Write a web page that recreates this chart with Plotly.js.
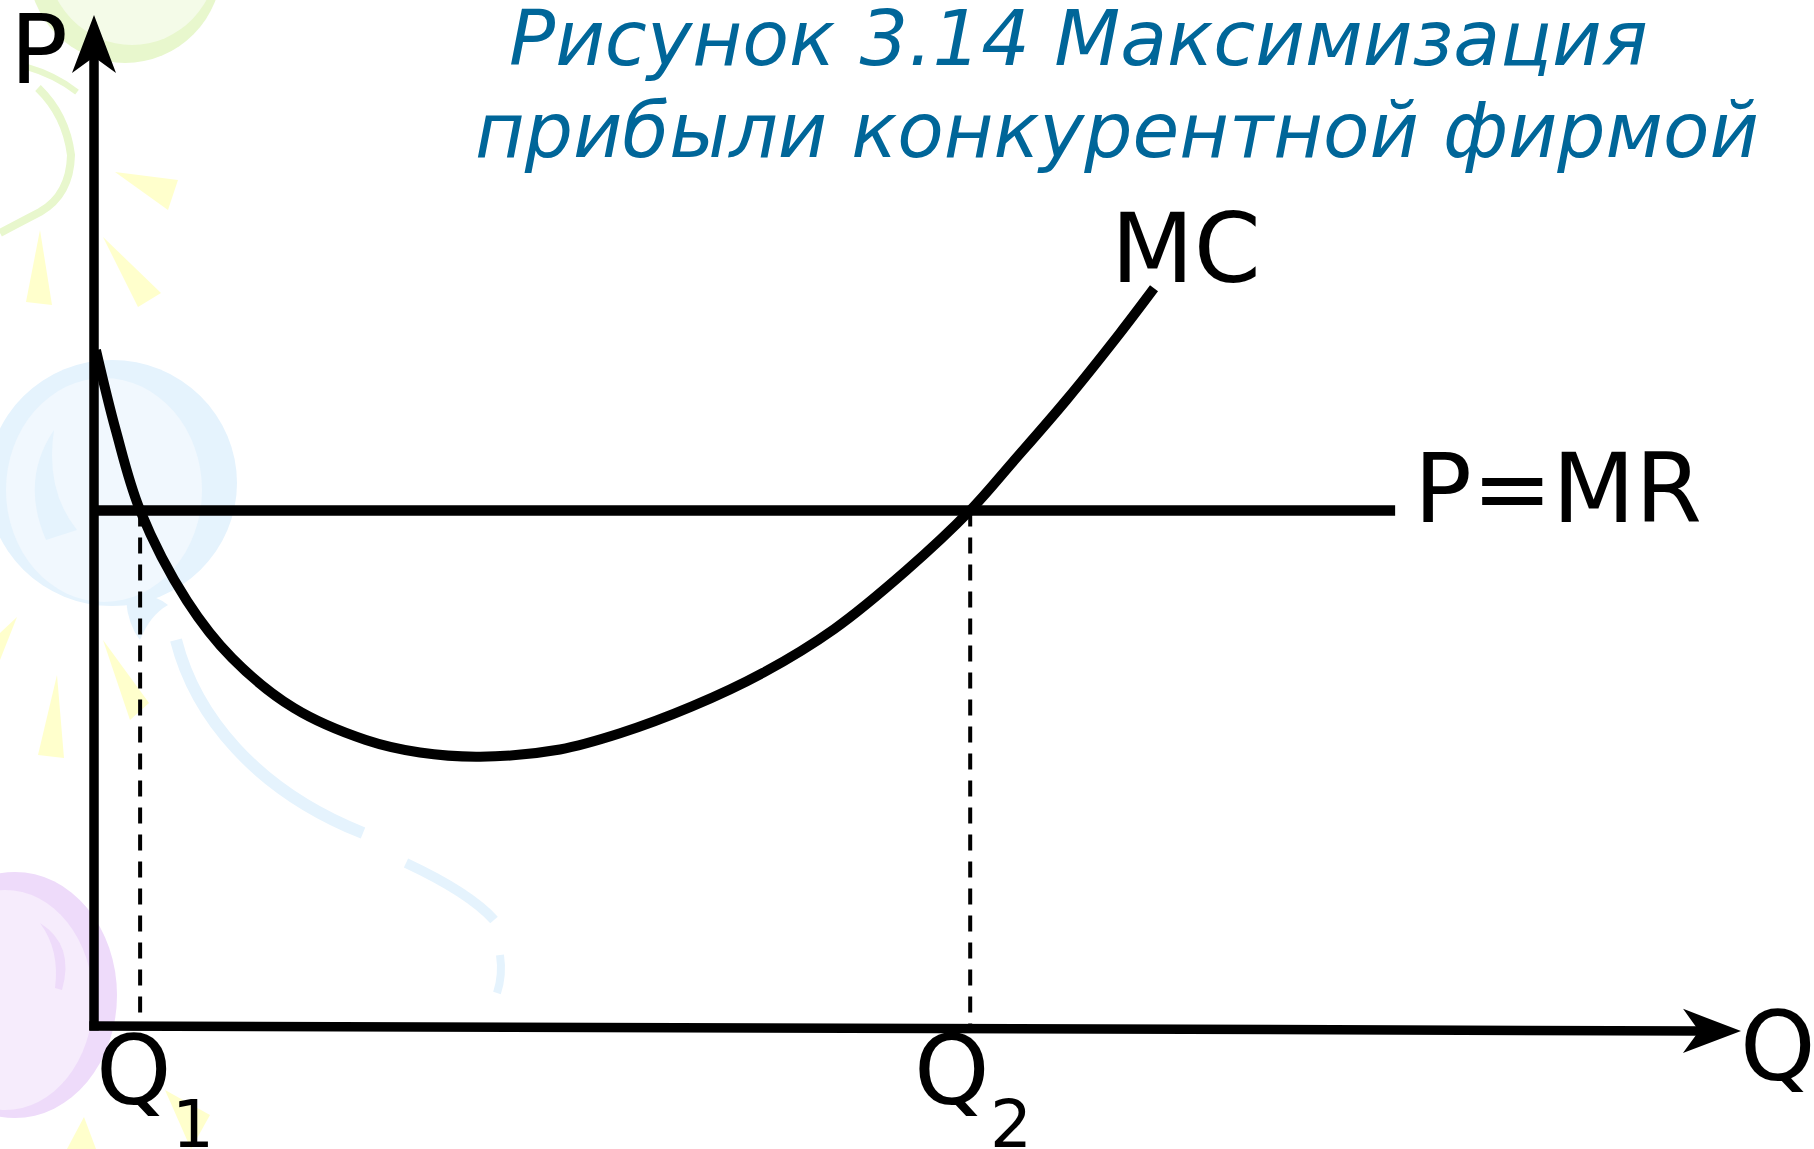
<!DOCTYPE html>
<html>
<head>
<meta charset="utf-8">
<script src="https://cdn.plot.ly/plotly-3.0.1.min.js"></script>
<style>
  html, body { margin: 0; padding: 0; background: #ffffff; }
  #chart { width: 1814px; height: 1149px; }
</style>
</head>
<body>
<div id="chart"></div>
<script>
// Marginal cost of a competitive firm: quantity Q against cost P
const mcQuantity = [0.12, 1.32, 2.8, 5.65, 8.38, 12.14, 16.51, 19.79, 23.44, 28.29, 31.94, 36.27, 40.61, 44.95, 49.28, 53.2, 55.79, 59.04, 62.3, 64.36];
const mcCost     = [66.86, 58.95, 51.0, 42.04, 36.4, 31.45, 28.29, 27.05, 26.64, 27.35, 28.95, 31.58, 34.92, 39.27, 45.0, 51.0, 55.79, 61.92, 68.55, 72.97];

// Market price, equal to marginal revenue
const price = 51;
const priceLineEnd = 79;

// Quantities where MC crosses P = MR
const crossQuantities = [2.8, 53.2];
const crossSubscripts = ['1', '2'];

// Axis extents (the Q axis drops slightly towards its end)
const qAxisEnd = 100;
const qAxisEndLevel = -0.5;
const pAxisEnd = 100;

// Text
const titleLines = ['Рисунок 3.14 Максимизация', 'прибыли конкурентной фирмой'];
const pAxisLabel = 'P';
const qAxisLabel = 'Q';
const mcLabel = 'MC';
const priceLabel = 'P=MR';

// ---- geometry of the drawing ----
const W = 1814, H = 1149;
const M = { l: 60, r: 40, t: 5, b: 93 };
const OX = 94, OY = 1026;      // pixel position of the origin
const SX = 16.47, SY = 10.11;  // pixels per unit
const PW = W - M.l - M.r, PH = H - M.t - M.b;

const xRange = [(M.l - OX) / SX, (W - M.r - OX) / SX];
const yRange = [(OY - (H - M.b)) / SY, (OY - M.t) / SY];

const toPx = (x, y) => [OX + x * SX, OY - y * SY];
const toData = (px, py) => [(px - OX) / SX, (OY - py) / SY];
const toPaper = (px, py) => [(px - M.l) / PW, 1 - (py - M.t) / PH];

function paperPath(parts) {
  return parts.map(p => Array.isArray(p)
    ? toPaper(p[0], p[1]).map(v => v.toFixed(5)).join(',') + ' '
    : p).join('');
}

const INK = '#000000';
const TITLE_BLUE = '#006699';

// ---- arrow heads for the axes ----
const HEAD_LEN = 58, HEAD_HALF = 22, HEAD_NOTCH = 42;
function arrowGeometry(tip, from) {
  const T = toPx(tip[0], tip[1]);
  const F = toPx(from[0], from[1]);
  const len = Math.hypot(T[0] - F[0], T[1] - F[1]);
  const d = [(T[0] - F[0]) / len, (T[1] - F[1]) / len];
  const n = [-d[1], d[0]];
  const at = (back, side) => [T[0] - back * d[0] + side * n[0], T[1] - back * d[1] + side * n[1]];
  const shape = {
    type: 'path', xref: 'paper', yref: 'paper', layer: 'above',
    path: paperPath(['M', T, 'L', at(HEAD_LEN, HEAD_HALF), 'L', at(HEAD_NOTCH, 0), 'L', at(HEAD_LEN, -HEAD_HALF), 'Z']),
    fillcolor: INK, line: { width: 0 }
  };
  const lineEnd = toData(...at(HEAD_NOTCH - 4, 0));
  return { shape, lineEnd };
}

const pArrow = arrowGeometry([0, pAxisEnd], [0, 0]);
const qArrow = arrowGeometry([qAxisEnd, qAxisEndLevel], [0, 0]);

// ---- traces ----
const traces = [];

crossQuantities.forEach(q => {
  traces.push({
    type: 'scatter', mode: 'lines', hoverinfo: 'skip', showlegend: false,
    x: [q, q], y: [price, 0],
    line: { color: INK, width: 4, dash: '16px,11px' }
  });
});

traces.push({
  type: 'scatter', mode: 'lines', name: priceLabel, showlegend: false,
  x: [0, priceLineEnd], y: [price, price],
  line: { color: INK, width: 10.5 }
});

traces.push({
  type: 'scatter', mode: 'lines', name: mcLabel, showlegend: false,
  x: mcQuantity, y: mcCost,
  line: { color: INK, width: 10, shape: 'spline', smoothing: 1, simplify: false }
});

// axes
traces.push({
  type: 'scatter', mode: 'lines', hoverinfo: 'skip', showlegend: false,
  x: [0, 0], y: [-0.45, pArrow.lineEnd[1]],
  line: { color: INK, width: 9.5 }
});
traces.push({
  type: 'scatter', mode: 'lines', hoverinfo: 'skip', showlegend: false,
  x: [-0.28, qArrow.lineEnd[0]], y: [0, qArrow.lineEnd[1]],
  line: { color: INK, width: 9.5 }
});

// ---- text ----
const DESC = 0.236; // font descent, em
function textAt(text, cx, baseline, size, font) {
  const p = toPaper(cx, baseline + DESC * size + 2);
  return {
    xref: 'paper', yref: 'paper', x: p[0], y: p[1],
    xanchor: 'center', yanchor: 'bottom', showarrow: false, text,
    font: Object.assign({ family: 'DejaVu Sans', size, color: INK }, font || {})
  };
}

const annotations = [
  textAt(titleLines[0], 1078, 65, 76.5, { color: TITLE_BLUE, style: 'italic' }),
  textAt(titleLines[1], 1117, 157, 76, { color: TITLE_BLUE, style: 'italic' }),
  textAt(pAxisLabel, 39, 83, 96),
  textAt(qAxisLabel, 1778, 1080, 96),
  textAt(mcLabel, 1186, 282, 96),
  textAt(priceLabel, 1558, 522, 96)
];

crossQuantities.forEach((q, i) => {
  const cx = toPx(q, 0)[0];
  annotations.push(textAt('Q', cx - 6 + (i === 0 ? 0 : -12), 1104, 96));
  annotations.push(textAt(crossSubscripts[i], cx + (i === 0 ? 53 : 41), 1147, 66));
});

// ---- faint background ornament ----
function blob(cx, cy, rx, ry, fill) {
  const a = toPaper(cx - rx, cy + ry), b = toPaper(cx + rx, cy - ry);
  return { type: 'circle', xref: 'paper', yref: 'paper', layer: 'below',
    x0: a[0], y0: a[1], x1: b[0], y1: b[1], fillcolor: fill, line: { width: 0 } };
}
function fillPath(parts, fill) {
  return { type: 'path', xref: 'paper', yref: 'paper', layer: 'below',
    path: paperPath(parts), fillcolor: fill, line: { width: 0 } };
}
function strokePath(parts, color, width) {
  return { type: 'path', xref: 'paper', yref: 'paper', layer: 'below',
    path: paperPath(parts), fillcolor: 'rgba(0,0,0,0)', line: { color, width } };
}
const GREEN = '#e8f7cd', GREEN_LIGHT = '#f4fbe8';
const BLUE = '#e5f3fd', BLUE_LIGHT = '#f1f8fe';
const LILAC = '#eedbfa', LILAC_LIGHT = '#f6ecfc';
const SUN = '#ffffcc';
const tri = (a, b, c) => fillPath(['M', a, 'L', b, 'L', c, 'Z'], SUN);

const ornament = [
  blob(125, -35, 97, 98, GREEN),
  blob(132, -45, 86, 90, GREEN_LIGHT),
  strokePath(['M', [38, 88], 'Q', [66, 115], [71, 155], 'Q', [70, 195], [40, 212], 'Q', [15, 225], [0, 233]], GREEN, 8),
  strokePath(['M', [27, 67], 'Q', [55, 75], [77, 92]], GREEN, 6),

  blob(112, 483, 125, 123, BLUE),
  blob(104, 490, 98, 112, BLUE_LIGHT),
  fillPath(['M', [54, 430], 'Q', [20, 480], [46, 540], 'L', [77, 530], 'Q', [45, 490], [54, 430], 'Z'], BLUE),
  fillPath(['M', [126, 600], 'Q', [150, 590], [168, 605], 'Q', [150, 615], [140, 640], 'Q', [128, 625], [126, 600], 'Z'], BLUE),
  strokePath(['M', [176, 640], 'C', [195, 715], [255, 790], [363, 833]], BLUE, 12),
  strokePath(['M', [406, 863], 'Q', [470, 893], [494, 920]], BLUE, 10),
  strokePath(['M', [500, 955], 'Q', [503, 975], [497, 993]], BLUE, 8),

  blob(15, 995, 102, 123, LILAC),
  blob(5, 1000, 88, 110, LILAC_LIGHT),
  fillPath(['M', [40, 923], 'Q', [75, 945], [62, 990], 'L', [55, 988], 'Q', [60, 950], [40, 923], 'Z'], LILAC),

  tri([115, 172], [178, 180], [168, 210]),
  tri([40, 230], [52, 305], [26, 302]),
  tri([103, 237], [161, 293], [138, 307]),
  tri([17, 617], [0, 633], [0, 660]),
  tri([57, 675], [64, 758], [38, 755]),
  tri([103, 640], [149, 703], [130, 720]),
  tri([165, 1090], [210, 1115], [191, 1149]),
  tri([84, 1117], [96, 1149], [67, 1149])
];

const hiddenAxis = (range) => ({
  range, visible: false, showgrid: false, zeroline: false, fixedrange: true
});

const layout = {
  width: W, height: H,
  margin: M,
  paper_bgcolor: '#ffffff',
  plot_bgcolor: 'rgba(0,0,0,0)',
  showlegend: false,
  xaxis: hiddenAxis(xRange),
  yaxis: hiddenAxis(yRange),
  shapes: ornament.concat([pArrow.shape, qArrow.shape]),
  annotations
};

Plotly.newPlot('chart', traces, layout, { displayModeBar: false, staticPlot: true });
</script>
</body>
</html>
